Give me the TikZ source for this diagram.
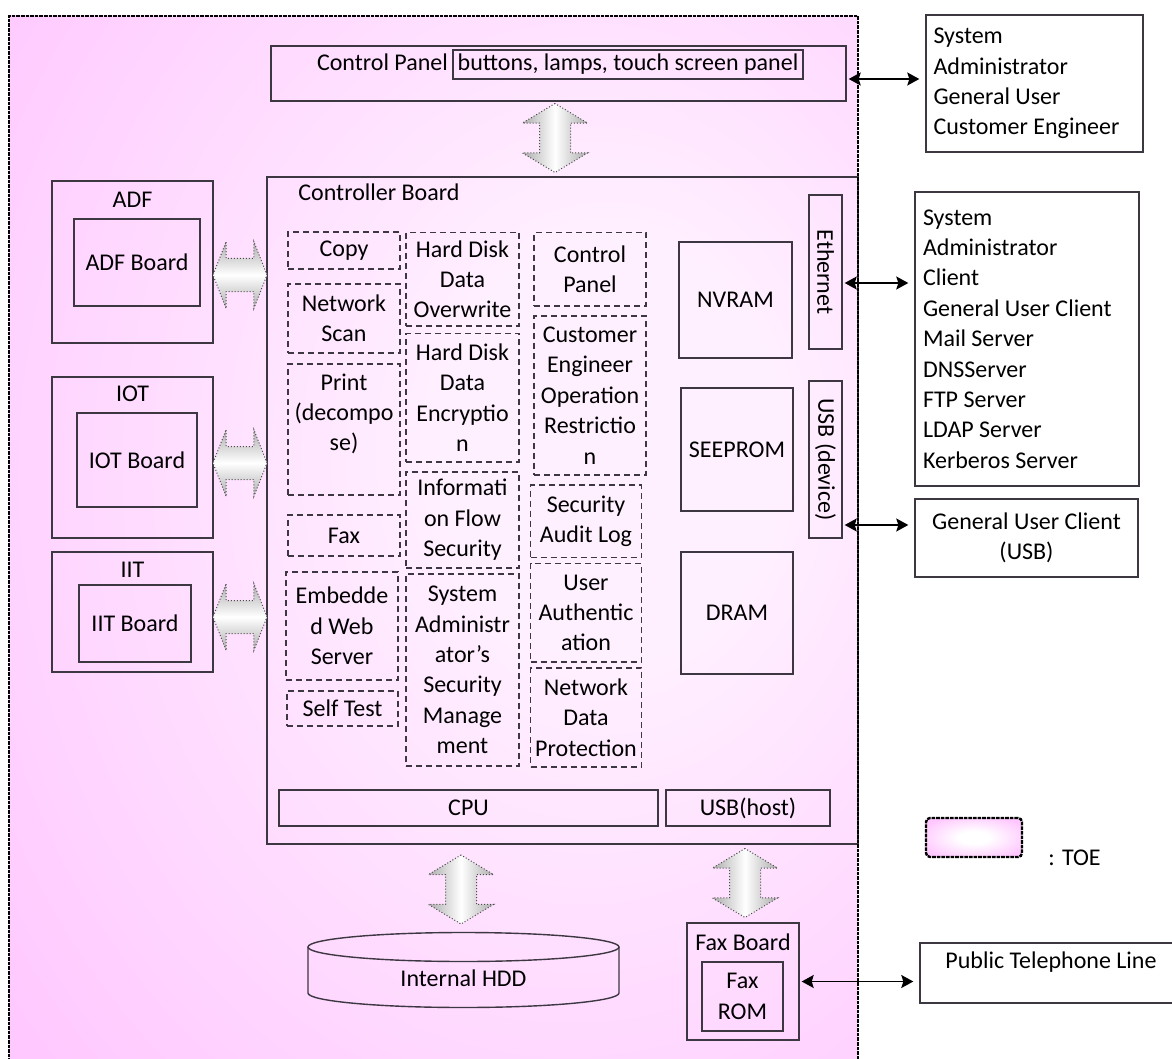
\documentclass[tikz,border=0pt]{standalone}
\usepackage{fontspec}
\setmainfont{Carlito}
\usetikzlibrary{arrows.meta,shapes.arrows}

\definecolor{toepink}{RGB}{255,198,255}
\definecolor{toelight}{RGB}{255,240,255}
\definecolor{boxline}{RGB}{60,55,65}
\pgfdeclareradialshading{toeshade}{\pgfpoint{12bp}{5bp}}{%
  color(0bp)=(toelight); color(10bp)=(toelight); color(42bp)=(toepink); color(80bp)=(toepink)}
\pgfdeclareradialshading{legendshade}{\pgfpoint{0bp}{0bp}}{%
  color(0bp)=(white); color(8bp)=(white); color(30bp)=(toepink); color(60bp)=(toepink)}

\tikzset{
  txt/.style={font=\fontsize{12}{15.2}\selectfont, align=flush center, inner sep=0pt},
  sz/.style 2 args={minimum width=#1*0.5pt, minimum height=#2*0.5pt},
  box/.style={draw=boxline, line width=0.7pt, txt},
  func/.style={draw=boxline, line width=0.55pt, dash pattern=on 3pt off 2pt, txt},
  toeline/.style={draw=black, line width=1.2pt, dash pattern=on 1.8pt off 0.5pt},
  link/.style={{Stealth[length=6pt,width=6.5pt,inset=1pt]}-{Stealth[length=6pt,width=6.5pt,inset=1pt]},
    line width=0.75pt, shorten <=1pt, shorten >=3pt},
  bus/.style={double arrow, draw=gray!60!black, densely dotted, line width=0.5pt},
  vbus/.style={bus, shape border rotate=90, inner sep=7.5pt, minimum height=34.5pt, minimum width=32pt,
    double arrow head extend=8.5pt, double arrow tip angle=118,
    left color=gray!65, right color=gray!65, middle color=white},
  hbus/.style={bus, inner sep=8pt, minimum height=27pt, minimum width=33pt,
    double arrow head extend=8.5pt, double arrow tip angle=137,
    top color=gray!65, bottom color=gray!65, middle color=white},
}

\begin{document}
\begin{tikzpicture}[x=0.5pt, y=-0.5pt]
    \useasboundingbox (0,0) rectangle (1172,1059);

    % TOE (Hintergrund)
    \shade[shading=toeshade] (9,16) rectangle (858,1064);

    % Control Panel
    \node[box, sz={575}{55}] (cpanel) at (558.5,73.5) {};
    \node[box, sz={350}{29}] (cpbtn) at (628,64.5) {buttons, lamps, touch screen panel};
    \node[txt, anchor=base east] (cplbl) at ([xshift=-2pt]cpbtn.base west) {Control Panel};
    \node[vbus] (cparr) at (555,138) {};

    % Controller Board
    \node[box, sz={591}{667}] (cb) at (562.5,510.5) {};
    \node[txt, anchor=west] (cbtitle) at (298,192) {Controller Board};

    % ADF / IOT / IIT
    \node[box, sz={161}{162}] (adf) at (132.5,262) {};
    \node[txt] (adftitle) at (132.5,200) {ADF};
    \node[box, sz={126}{87}] (adfbd) at (137,262.5) {ADF Board};
    \node[box, sz={161}{161}] (iot) at (132.5,457.5) {};
    \node[txt] (iottitle) at (132.5,394) {IOT};
    \node[box, sz={120}{94}] (iotbd) at (137,460) {IOT Board};
    \node[box, sz={161}{120}] (iit) at (132.5,612) {};
    \node[txt] (iittitle) at (132.5,570) {IIT};
    \node[box, sz={112}{77}] (iitbd) at (135,623.5) {IIT Board};
    \foreach \y/\nm in {275/adfarr, 463/iotarr, 617/iitarr}
        \node[hbus] (\nm) at (240,\y) {};

    % Funktionen, Spalte 1
    \node[func, sz={112}{37}] (copy) at (344,250.5) {Copy};
    \node[func, sz={112}{69}] (netscan) at (344,318.5) {Network\\Scan};
    \node[func, sz={112}{131}] (print) at (344,429.5) {};
    \node[txt] (printtxt) at (344,414) {Print\\(decompo\\se)};
    \node[func, sz={112}{41}] (fax) at (344,535.5) {Fax};
    \node[func, sz={112}{108}] (web) at (342,626) {Embedde\\d Web\\Server};
    \node[func, sz={111}{35}] (selftest) at (342.5,708.5) {Self Test};

    % Funktionen, Spalte 2
    \node[func, sz={113}{93.5}] (hdow) at (462.5,279.25) {Hard Disk\\Data\\Overwrite};
    \node[func, sz={113}{128.5}] (hden) at (462.5,397.75) {Hard Disk\\Data\\Encryptio\\n};
    \node[func, sz={113}{96}] (infoflow) at (462.5,520) {Informati\\on Flow\\Security};
    \node[func, sz={113}{192}] (sysadm) at (462.5,670) {System\\Administr\\ator's\\Security\\Manage\\ment};

    % Funktionen, Spalte 3
    \node[func, sz={112}{73.5}] (cpfunc) at (590,269.25) {Control\\Panel};
    \node[func, sz={112}{159}] (ceop) at (590,395.5) {Customer\\Engineer\\Operation\\Restrictio\\n};
    \node[func, sz={111}{72.5}] (audit) at (586,521.25) {Security\\Audit Log};
    \node[func, sz={111}{98.4}] (userauth) at (586,612.8) {User\\Authentic\\ation};
    \node[func, sz={111}{99}] (netdata) at (586,717.5) {Network\\Data\\Protection};

    % Speicher und Schnittstellen
    \node[box, sz={113}{116}] (nvram) at (735.5,300) {NVRAM};
    \node[box, sz={112}{123}] (seeprom) at (737,449.5) {SEEPROM};
    \node[box, sz={112}{122}] (dram) at (737,613) {DRAM};
    \node[box, sz={33}{154}] (eth) at (825.5,272) {};
    \node[txt, rotate=-90] (ethtxt) at (eth) {Ethernet};
    \node[box, sz={33}{157}] (usbdev) at (825.5,459.5) {};
    \node[txt, rotate=-90] (usbdevtxt) at (usbdev) {USB (device)};
    \node[box, sz={379}{36}] (cpu) at (468.5,808) {CPU};
    \node[box, sz={164}{36}] (usbhost) at (748,808) {USB(host)};

    % unten
    \node[vbus] (cpuarr) at (461,889.5) {};
    \node[vbus] (usbarr) at (745,883) {};
    \draw[boxline, line width=0.7pt] (308,947) -- (308,993)
        arc[start angle=180, end angle=0, x radius=155.5, y radius=14.5] -- (619,947);
    \draw[boxline, line width=0.7pt] (463.5,947) ellipse [x radius=155.5, y radius=14.5];
    \node[txt] (hdd) at (463.5,978) {Internal HDD};
    \node[box, sz={112}{117}] (faxbd) at (743,981.5) {};
    \node[txt] (faxbdtitle) at (743,942) {Fax Board};
    \node[box, sz={81}{69}] (faxrom) at (742.5,996.5) {Fax\\ROM};

    % TOE Rand
    \draw[toeline] (858,1064) -- (858,16) -- (9,16) -- (9,1064);

    % externe Partner
    \node[box, sz={217}{137}, align=flush left, text width=101pt, inner xsep=3.75pt] (adminbox)
        at (1034.5,83.5) {System\\Administrator\\General User\\Customer Engineer};
    \node[box, sz={224}{294}, align=flush left, text width=104pt, inner xsep=4pt] (netbox)
        at (1027,339) {System\\Administrator\\Client\\General User Client\\Mail Server\\DNSServer\\FTP Server\\LDAP Server\\Kerberos Server};
    \node[box, sz={223}{78}] (usbbox) at (1026.5,538) {General User Client\\(USB)};
    \node[box, sz={262}{60}] (ptl) at (1051,973) {};
    \node[txt] (ptltxt) at (1051,962) {Public Telephone Line};

    % Verbindungen
    \draw[link] ([yshift=-2.75pt]cpanel.east) -- ([yshift=-2.75pt]cpanel.east -| adminbox.west);
    \draw[link] ([yshift=-5.5pt]eth.east) -- ([yshift=-5.5pt]eth.east -| netbox.west);
    \draw[link] ([yshift=6.5pt]usbbox.west -| usbdev.east) -- ([yshift=6.5pt]usbbox.west);
    \draw[link] (faxbd.east) -- (faxbd.east -| ptl.west);

    % Legende
    \node[sz={96}{39}, rounded corners=2pt, shading=legendshade, toeline] (legend) at (974,837.5) {};
    \node[txt, anchor=west] (legendtxt) at (1048,858) {: TOE};
\end{tikzpicture}
\end{document}
